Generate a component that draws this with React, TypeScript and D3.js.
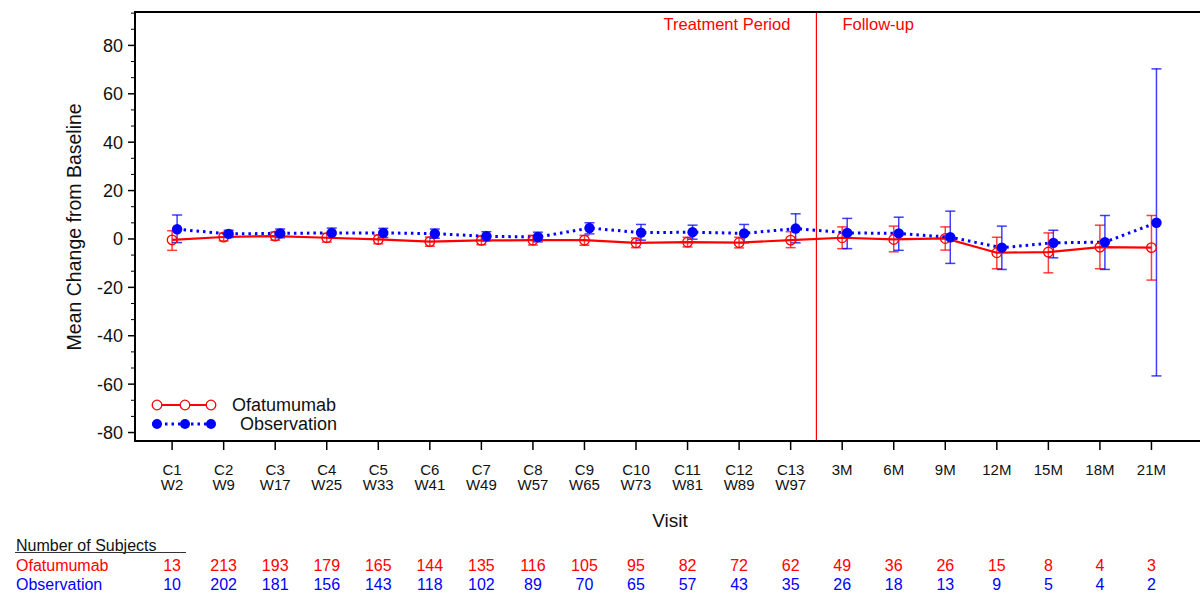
import React from 'react';
import { scaleLinear, line, range } from 'd3';

// visit labels (two lines for cycle visits)
const visitTop = ['C1', 'C2', 'C3', 'C4', 'C5', 'C6', 'C7', 'C8', 'C9', 'C10', 'C11', 'C12', 'C13', '3M', '6M', '9M', '12M', '15M', '18M', '21M'];
const visitBottom = ['W2', 'W9', 'W17', 'W25', 'W33', 'W41', 'W49', 'W57', 'W65', 'W73', 'W81', 'W89', 'W97', '', '', '', '', '', '', ''];

const ofaMean = [-0.4, 0.8, 1.2, 0.5, -0.2, -1.1, -0.6, -0.5, -0.5, -1.6, -1.3, -1.5, -0.5, 0.5, -0.2, 0.2, -5.7, -5.4, -3.4, -3.6];
const ofaLow = [-4.7, -0.8, -0.5, -1.3, -2.0, -3.0, -2.4, -2.5, -2.6, -3.6, -3.3, -3.7, -3.6, -4.0, -5.3, -4.6, -12.3, -14.0, -12.3, -17.0];
const ofaHigh = [3.4, 2.4, 2.9, 2.3, 1.6, 0.8, 1.2, 1.5, 1.5, 0.4, 0.7, 0.7, 3.0, 5.0, 5.3, 5.0, 0.7, 2.5, 5.7, 9.7];

const obsMean = [4.0, 2.1, 2.3, 2.5, 2.5, 2.2, 1.1, 0.8, 4.5, 2.6, 2.8, 2.3, 4.3, 2.5, 2.3, 0.7, -3.6, -1.6, -1.3, 6.7];
const obsLow = [-1.5, 0.6, 0.5, 0.5, 0.6, 0.3, -0.8, -1.2, 2.1, -0.5, -0.1, -1.6, -1.6, -4.0, -4.7, -10.1, -12.6, -7.8, -12.6, -56.6];
const obsHigh = [9.9, 3.6, 4.1, 4.5, 4.4, 4.1, 3.0, 2.8, 6.7, 6.0, 5.7, 6.0, 10.4, 8.5, 9.0, 11.5, 5.3, 3.6, 9.7, 70.3];

const ofaCount = [13, 213, 193, 179, 165, 144, 135, 116, 105, 95, 82, 72, 62, 49, 36, 26, 15, 8, 4, 3];
const obsCount = [10, 202, 181, 156, 143, 118, 102, 89, 70, 65, 57, 43, 35, 26, 18, 13, 9, 5, 4, 2];

const yMajor = [80, 60, 40, 20, 0, -20, -40, -60, -80];

const RED = '#ff0000';
const BLUE = '#0000ff';
const FONT = '"Liberation Sans", Arial, Helvetica, sans-serif';

const App = () => {
  const left = 135;
  const top = 12;
  const bottom = 441;
  const right = 1203;

  const x = scaleLinear().domain([-0.72, 20]).range([left, right]);
  const y = scaleLinear().domain([-83.5, 93.8]).range([bottom, top]);

  const obsShift = 5;
  const idx = range(visitTop.length);

  const ofaLine = line<number>()
    .x(i => x(i))
    .y(i => y(ofaMean[i]));
  const obsLine = line<number>()
    .x(i => x(i) + obsShift)
    .y(i => y(obsMean[i]));

  const minor = range(-80, 95, 20 / 3).filter(v => v <= 93.8 && !yMajor.some(m => Math.abs(m - v) < 0.01));

  const errBar = (i: number, lo: number, hi: number, color: string, dx: number) => (
    <g key={i} stroke={color} strokeOpacity={0.75} strokeWidth={1.5}>
      <line x1={x(i) + dx} x2={x(i) + dx} y1={y(lo)} y2={y(hi)} />
      <line x1={x(i) + dx - 5} x2={x(i) + dx + 5} y1={y(lo)} y2={y(lo)} />
      <line x1={x(i) + dx - 5} x2={x(i) + dx + 5} y1={y(hi)} y2={y(hi)} />
    </g>
  );

  const splitX = x(12.5);

  return (
    <svg width={1200} height={594} style={{ position: 'absolute', left: 0, top: 0, background: '#fff' }} fontFamily={FONT}>
      {/* y axis ticks */}
      {yMajor.map(v => (
        <g key={v}>
          <line x1={left - 7} x2={left} y1={y(v)} y2={y(v)} stroke="#000" strokeWidth={1.5} />
          <text x={left - 12} y={y(v)} dy="0.36em" textAnchor="end" fontSize={18} fill="#111">{v}</text>
        </g>
      ))}
      {minor.map(v => (
        <line key={v} x1={left - 4} x2={left} y1={y(v)} y2={y(v)} stroke="#000" strokeWidth={1} />
      ))}
      <text transform={`translate(81,${y(5)}) rotate(-90)`} textAnchor="middle" fontSize={19.5} fill="#111">
        Mean Change from Baseline
      </text>

      {/* x axis ticks and labels */}
      {idx.map(i => (
        <g key={i}>
          <line x1={x(i)} x2={x(i)} y1={bottom} y2={bottom + 9} stroke="#000" strokeWidth={1.5} />
          <text x={x(i)} y={475} textAnchor="middle" fontSize={15} fill="#111">{visitTop[i]}</text>
          <text x={x(i)} y={490} textAnchor="middle" fontSize={15} fill="#111">{visitBottom[i]}</text>
        </g>
      ))}
      <text x={670} y={527} textAnchor="middle" fontSize={19} fill="#111">Visit</text>

      {/* period split */}
      <line x1={splitX} x2={splitX} y1={top} y2={bottom} stroke={RED} strokeWidth={1.2} />
      <text x={splitX - 26} y={30} textAnchor="end" fontSize={16.5} fill={RED}>Treatment Period</text>
      <text x={splitX + 26} y={30} fontSize={16.5} fill={RED}>Follow-up</text>

      {/* error bars */}
      {idx.map(i => errBar(i, ofaLow[i], ofaHigh[i], RED, 0))}
      {idx.map(i => errBar(i, obsLow[i], obsHigh[i], BLUE, obsShift))}

      {/* series lines */}
      <path d={ofaLine(idx) || ''} fill="none" stroke={RED} strokeWidth={2.2} />
      <path d={obsLine(idx) || ''} fill="none" stroke={BLUE} strokeWidth={3} strokeDasharray="2.5,4" />

      {idx.map(i => (
        <circle key={'o' + i} cx={x(i)} cy={y(ofaMean[i])} r={4.8} fill="none" stroke={RED} strokeWidth={1.3} />
      ))}
      {idx.map(i => (
        <circle key={'b' + i} cx={x(i) + obsShift} cy={y(obsMean[i])} r={5.2} fill={BLUE} />
      ))}

      {/* legend */}
      <line x1={152} x2={216} y1={405} y2={405} stroke={RED} strokeWidth={2.2} />
      {[157, 185, 211].map(cx => (
        <circle key={'lo' + cx} cx={cx} cy={405} r={4.8} fill="#fff" stroke={RED} strokeWidth={1.3} />
      ))}
      <line x1={152} x2={216} y1={424} y2={424} stroke={BLUE} strokeWidth={3} strokeDasharray="2.5,4" />
      {[157, 185, 211].map(cx => (
        <circle key={'lb' + cx} cx={cx} cy={424} r={5} fill={BLUE} />
      ))}
      <text x={232} y={411} fontSize={18} fill="#111">Ofatumumab</text>
      <text x={240} y={430} fontSize={18} fill="#111">Observation</text>

      {/* frame */}
      <path d={`M${right},${top}H${left}V${bottom}H${right}`} fill="none" stroke="#000" strokeWidth={2} />

      {/* subject counts */}
      <text x={16} y={551} fontSize={16} fill="#111">Number of Subjects</text>
      <line x1={15} x2={186} y1={552.5} y2={552.5} stroke="#333" strokeWidth={1} />
      <text x={16} y={571} fontSize={16} fill={RED}>Ofatumumab</text>
      <text x={16} y={590} fontSize={16} fill={BLUE}>Observation</text>
      {idx.map(i => (
        <g key={'n' + i}>
          <text x={x(i)} y={571} textAnchor="middle" fontSize={16} fill={RED}>{ofaCount[i]}</text>
          <text x={x(i)} y={590} textAnchor="middle" fontSize={16} fill={BLUE}>{obsCount[i]}</text>
        </g>
      ))}
    </svg>
  );
};

export default App;
